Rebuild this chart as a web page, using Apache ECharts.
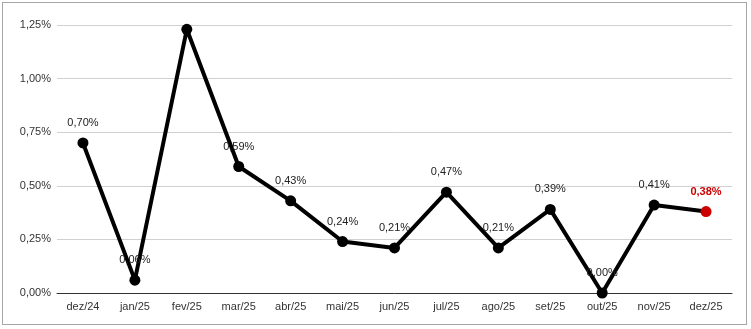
<!DOCTYPE html>
<html>
<head>
<meta charset="utf-8">
<script src="https://cdn.jsdelivr.net/npm/echarts@6/dist/echarts.min.js"></script>
<style>
  html, body { margin: 0; padding: 0; background: #fff; }
  #frame { position: absolute; left: 2px; top: 2px; width: 745px; height: 323px; border: 1px solid #a6a6a6; box-sizing: border-box; }
  #chart { position: absolute; left: 0; top: 0; width: 751px; height: 329px; }
</style>
</head>
<body>
<div id="frame"></div>
<div id="chart"></div>
<script>
// Monthly rate, in percent
const months = ['dez/24', 'jan/25', 'fev/25', 'mar/25', 'abr/25', 'mai/25', 'jun/25', 'jul/25', 'ago/25', 'set/25', 'out/25', 'nov/25', 'dez/25'];
const rates = [0.70, 0.06, 1.23, 0.59, 0.43, 0.24, 0.21, 0.47, 0.21, 0.39, 0.00, 0.41, 0.38];
// Months whose value label is not shown
const hiddenLabels = ['fev/25'];
const highlightMonth = 'dez/25';

const fmt = v => v.toFixed(2).replace('.', ',') + '%';

const seriesData = months.map((m, i) => {
  const item = { value: rates[i] };
  if (hiddenLabels.includes(m)) item.label = { show: false };
  if (m === highlightMonth) {
    item.itemStyle = { color: '#cc0000' };
    item.label = { color: '#cc0000', fontWeight: 'bold' };
  }
  return item;
});

const chart = echarts.init(document.getElementById('chart'), null, { renderer: 'canvas' });
chart.setOption({
  animation: false,
  grid: { left: 57, right: 19, top: 25, bottom: 36, containLabel: false },
  xAxis: {
    type: 'category',
    data: months,
    boundaryGap: true,
    axisLine: { lineStyle: { color: '#333', width: 1 } },
    axisTick: { show: false },
    axisLabel: { color: '#333', fontFamily: 'Liberation Sans, Arial, sans-serif', fontSize: 11, margin: 8 }
  },
  yAxis: {
    type: 'value',
    min: 0,
    max: 1.25,
    interval: 0.25,
    axisLine: { show: false },
    axisTick: { show: false },
    splitLine: { lineStyle: { color: '#d0d0d0', width: 1 } },
    axisLabel: { color: '#333', fontFamily: 'Liberation Sans, Arial, sans-serif', fontSize: 11, margin: 6, formatter: fmt }
  },
  series: [{
    type: 'line',
    data: seriesData,
    symbol: 'circle',
    symbolSize: 11,
    lineStyle: { color: '#000', width: 4 },
    itemStyle: { color: '#000' },
    label: {
      show: true,
      position: 'top',
      distance: 9,
      color: '#222',
      fontFamily: 'Liberation Sans, Arial, sans-serif',
      fontSize: 11,
      formatter: p => fmt(p.value)
    },
    z: 3
  }]
});
</script>
</body>
</html>
